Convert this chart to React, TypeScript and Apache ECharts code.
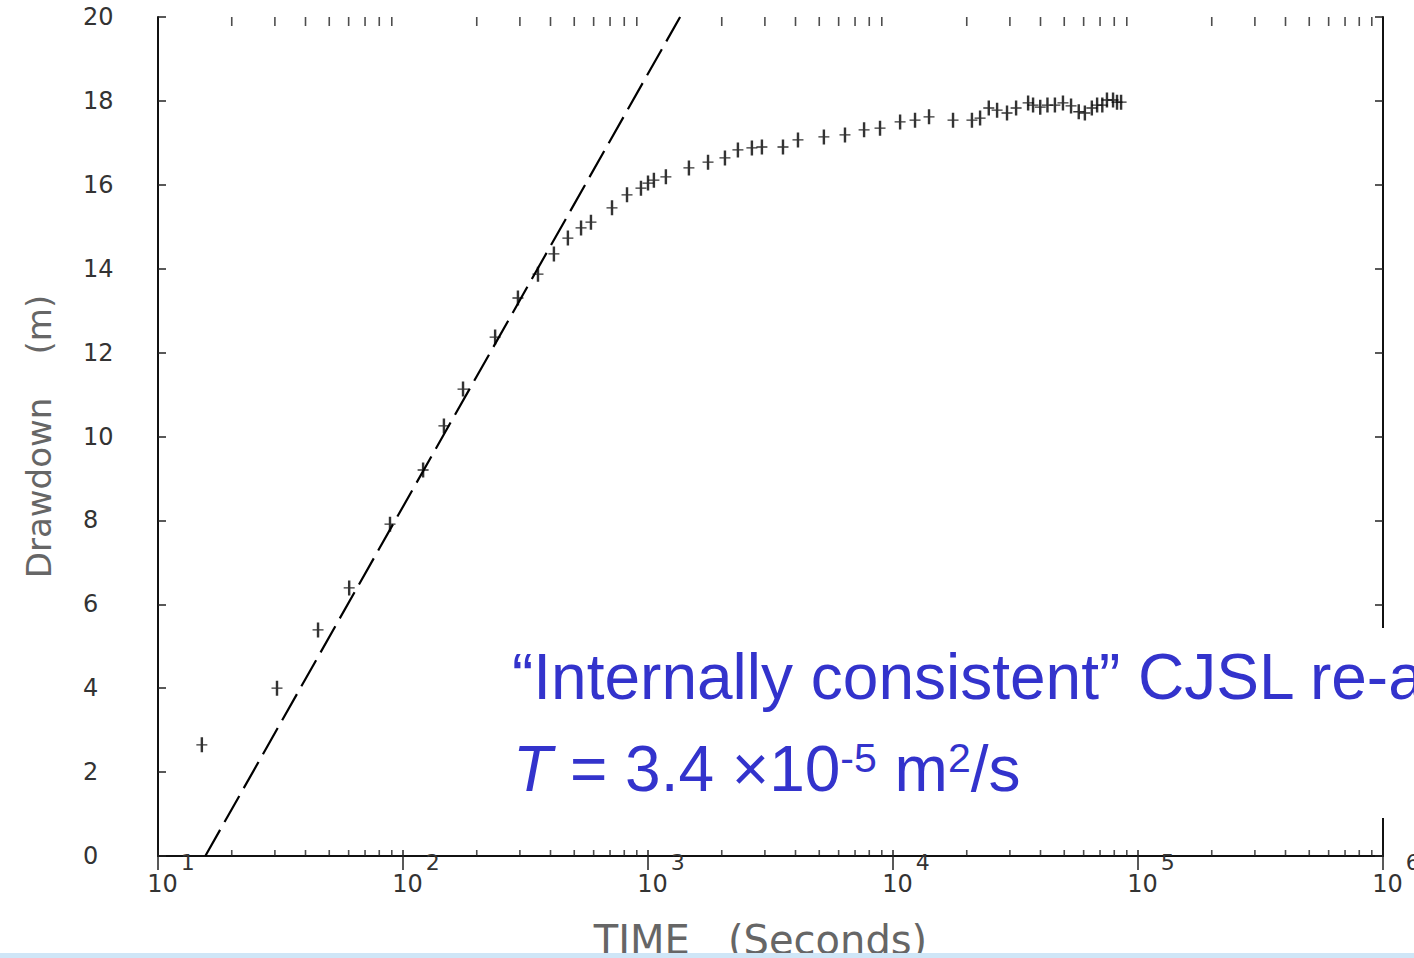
import React, { useEffect, useRef } from "react";
import * as echarts from "echarts";

// Observed drawdown (m) versus time (s)
const timeSeconds = [
  15.1, 30.6, 45.0, 60.3, 88.5, 120.8, 146.9, 175.8, 237.7, 294.5,
  355.6, 413, 471, 533, 585, 713, 821, 936, 1000, 1057,
  1183, 1469, 1758, 2061, 2328, 2655, 2917, 3556, 4094, 5223,
  6368, 7620, 8852, 10690, 12300, 14030, 17580, 21000, 22670, 24600,
  26600, 29200, 31800, 35600, 37300, 39900, 42700, 45800, 49400, 53300,
  57300, 60700, 64800, 68100, 71500, 74700, 79100, 82100, 85300,
];
const drawdownM = [
  2.65, 4.0, 5.39, 6.39, 7.91, 9.2, 10.25, 11.13, 12.37, 13.3,
  13.87, 14.35, 14.73, 14.97, 15.11, 15.45, 15.76, 15.92, 16.04, 16.11,
  16.19, 16.4, 16.54, 16.64, 16.83, 16.88, 16.9, 16.9, 17.07, 17.14,
  17.19, 17.31, 17.35, 17.5, 17.54, 17.62, 17.54, 17.54, 17.59, 17.83,
  17.78, 17.71, 17.83, 17.95, 17.9, 17.85, 17.9, 17.9, 17.95, 17.88,
  17.74, 17.71, 17.83, 17.9, 17.9, 18.02, 18.02, 17.97, 17.97,
];

// Straight-line (Cooper-Jacob) fit
const fitTime = [15.6, 1352];
const fitDrawdown = [0, 20];

// Axis ranges / ticks
const xMin = 10;
const xMax = 1000000;
const yMin = 0;
const yMax = 20;
const yInterval = 2;
const decadeStarts = [10, 100, 1000, 10000, 100000];
const minorMultipliers = [2, 3, 4, 5, 6, 7, 8, 9];

const xAxisTitle = "TIME   (Seconds)";
const yAxisTitle = "Drawdown    (m)";
const noteLine1 = "\u201CInternally consistent\u201D CJSL re-analysis";

export default function App() {
  const ref = useRef<HTMLDivElement>(null);

  useEffect(() => {
    if (!ref.current) return;
    const chart = echarts.init(ref.current, undefined, { renderer: "svg" });

    const points = timeSeconds.map((t, i) => [t, drawdownM[i]]);
    const fit = fitTime.map((t, i) => [t, fitDrawdown[i]]);
    const minorTop: number[][] = [];
    const minorBottom: number[][] = [];
    decadeStarts.forEach((d) =>
      minorMultipliers.forEach((m) => {
        minorTop.push([d * m, yMax]);
        minorBottom.push([d * m, yMin]);
      })
    );

    const plus = "path://M3.9,0h2.2v15h-2.2z M0,6.8h10v1.3h-10z";
    const tickFont = "DejaVu Sans";

    chart.setOption({
      animation: false,
      backgroundColor: "#ffffff",
      grid: { left: 158, right: 31, top: 17, bottom: 102, containLabel: false, outerBoundsMode: "none" },
      xAxis: [
        {
          type: "log",
          logBase: 10,
          min: xMin,
          max: xMax,
          splitNumber: 5,
          position: "bottom",
          name: xAxisTitle,
          nameLocation: "middle",
          nameGap: 64,
          nameTextStyle: {
            fontFamily: tickFont,
            fontSize: 40,
            color: "#666",
            padding: [0, 20, 0, 0],
          },
          axisLine: { show: true, lineStyle: { color: "#111", width: 2 } },
          axisTick: { show: true, inside: true, length: 6, lineStyle: { color: "#222", width: 1.5 } },
          splitLine: { show: false },
          axisLabel: {
            margin: -5,
            padding: [0, 0, 0, 26],
            formatter: (v: number) => `{b|10}{s|${Math.round(Math.log10(v))}}`,
            rich: {
              b: { fontFamily: tickFont, fontSize: 24, color: "#333", padding: [21, 0, 0, 0] },
              s: { fontFamily: tickFont, fontSize: 22, color: "#333", verticalAlign: "top", padding: [0, 0, 0, 3] },
            },
          },
        },
        {
          type: "log",
          logBase: 10,
          min: xMin,
          max: xMax,
          splitNumber: 5,
          position: "top",
          axisLine: { show: true, lineStyle: { color: "#111", width: 2 } },
          axisTick: { show: true, inside: true, length: 14, lineStyle: { color: "#222", width: 1.5 } },
          axisLabel: { show: false },
          splitLine: { show: false },
        },
      ],
      yAxis: [
        {
          type: "value",
          min: yMin,
          max: yMax,
          interval: yInterval,
          position: "left",
          name: yAxisTitle,
          nameLocation: "middle",
          nameGap: 102,
          nameTextStyle: { fontFamily: tickFont, fontSize: 34, color: "#666" },
          axisLine: { show: true, lineStyle: { color: "#111", width: 2 } },
          axisTick: { show: true, inside: true, length: 8, lineStyle: { color: "#222", width: 1.5 } },
          splitLine: { show: false },
          axisLabel: {
            margin: 75,
            align: "left",
            fontFamily: tickFont,
            fontSize: 24,
            color: "#333",
          },
        },
        {
          type: "value",
          min: yMin,
          max: yMax,
          interval: yInterval,
          position: "right",
          axisLine: { show: true, lineStyle: { color: "#111", width: 2 } },
          axisTick: { show: true, inside: true, length: 8, lineStyle: { color: "#222", width: 1.5 } },
          axisLabel: { show: false },
          splitLine: { show: false },
        },
      ],
      series: [
        {
          type: "scatter",
          data: minorTop,
          symbol: "rect",
          symbolSize: [1.6, 9],
          symbolOffset: [0, 4.5],
          itemStyle: { color: "#222" },
          clip: false,
          silent: true,
        },
        {
          type: "scatter",
          data: minorBottom,
          symbol: "rect",
          symbolSize: [1.6, 6],
          symbolOffset: [0, -3],
          itemStyle: { color: "#222" },
          clip: false,
          silent: true,
        },
        {
          type: "line",
          data: fit,
          symbol: "none",
          lineStyle: { color: "#000", width: 2.2, type: [30, 9] },
          silent: true,
        },
        {
          type: "scatter",
          data: points,
          symbol: plus,
          symbolSize: [11, 15],
          itemStyle: { color: "#000" },
          silent: true,
        },
      ],
      graphic: [
        {
          type: "rect",
          z: 100,
          shape: { x: 500, y: 628, width: 914, height: 190 },
          style: { fill: "#ffffff" },
        },
        {
          type: "text",
          z: 101,
          x: 512,
          y: 677,
          style: {
            text: noteLine1,
            fontFamily: "Liberation Sans, Arial, sans-serif",
            fontSize: 64,
            fill: "#3333cc",
            verticalAlign: "middle",
          },
        },
        {
          type: "text",
          z: 101,
          x: 513,
          y: 769,
          style: {
            text: "{i|T} = 3.4 \u00D710{sup|-5} m{sup|2}/s",
            fontFamily: "Liberation Sans, Arial, sans-serif",
            fontSize: 64,
            fill: "#3333cc",
            verticalAlign: "middle",
            rich: {
              i: { fontStyle: "italic", fontSize: 64, fontFamily: "Liberation Sans, Arial, sans-serif", fill: "#3333cc" },
              sup: { fontSize: 41, fontFamily: "Liberation Sans, Arial, sans-serif", fill: "#3333cc", verticalAlign: "top" },
            },
          },
        },
        {
          type: "rect",
          z: 102,
          shape: { x: 0, y: 953, width: 1414, height: 5 },
          style: { fill: "#cfe6f7" },
        },
      ],
    });

    return () => chart.dispose();
  }, []);

  return (
    <div
      ref={ref}
      style={{ position: "fixed", left: 0, top: 0, width: 1414, height: 958, background: "#fff" }}
    />
  );
}
